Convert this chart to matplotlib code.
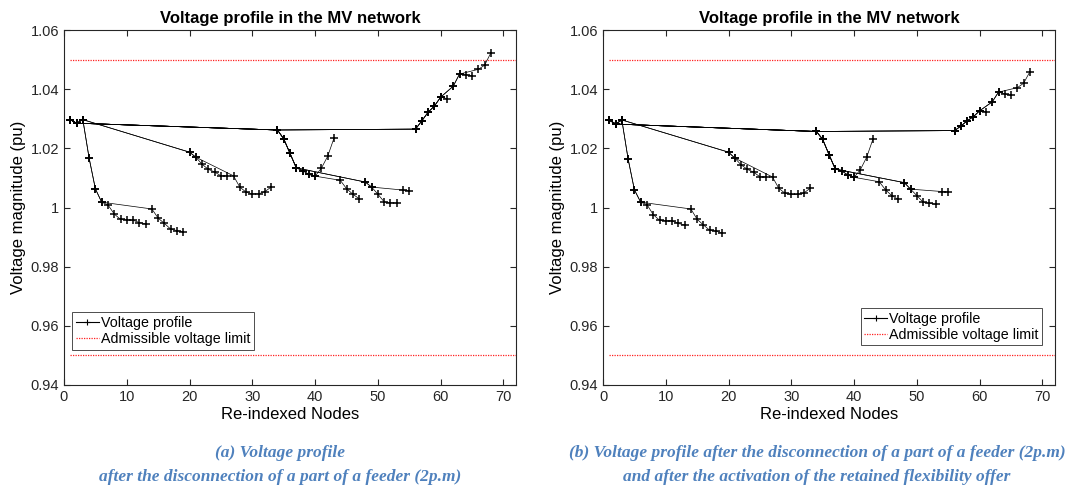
import numpy as np
import matplotlib.pyplot as plt
from matplotlib.lines import Line2D

plt.rcParams['font.family'] = ['Liberation Sans', 'DejaVu Sans']

# ── Data ─────────────────────────────────────────────────────────────────────
nodes = np.arange(1, 69)

# (a) after the disconnection of a part of a feeder
v_before = [
    1.0297, 1.0285, 1.0297, 1.0167, 1.0063, 1.0018, 1.0009, 0.9978, 0.9960, 0.9958,
    0.9957, 0.9949, 0.9945, 0.9995, 0.9964, 0.9946, 0.9927, 0.9922, 0.9917, 1.0187,
    1.0170, 1.0146, 1.0129, 1.0120, 1.0107, 1.0107, 1.0107, 1.0069, 1.0052, 1.0046,
    1.0046, 1.0054, 1.0069, 1.0262, 1.0232, 1.0183, 1.0134, 1.0125, 1.0112, 1.0106,
    1.0133, 1.0173, 1.0234, 1.0092, 1.0064, 1.0045, 1.0030, 1.0086, 1.0069, 1.0045,
    1.0019, 1.0016, 1.0015, 1.0059, 1.0057, 1.0265, 1.0293, 1.0322, 1.0343, 1.0373,
    1.0368, 1.0410, 1.0451, 1.0449, 1.0445, 1.0467, 1.0481, 1.0523,
]

# (b) after the activation of the retained flexibility offer
v_after = [
    1.0296, 1.0282, 1.0296, 1.0164, 1.0060, 1.0018, 1.0010, 0.9976, 0.9957, 0.9955,
    0.9955, 0.9946, 0.9941, 0.9995, 0.9960, 0.9941, 0.9923, 0.9920, 0.9914, 1.0187,
    1.0167, 1.0144, 1.0129, 1.0119, 1.0104, 1.0103, 1.0103, 1.0065, 1.0048, 1.0044,
    1.0044, 1.0049, 1.0065, 1.0257, 1.0230, 1.0179, 1.0130, 1.0124, 1.0110, 1.0102,
    1.0128, 1.0170, 1.0231, 1.0087, 1.0060, 1.0040, 1.0028, 1.0084, 1.0062, 1.0040,
    1.0018, 1.0014, 1.0011, 1.0054, 1.0052, 1.0260, 1.0275, 1.0293, 1.0307, 1.0327,
    1.0323, 1.0357, 1.0390, 1.0384, 1.0379, 1.0405, 1.0420, 1.0459,
]

# feeder paths from the substation (re-indexed nodes)
paths = [
    [1, 2, 3, 4, 5, 6, 7, 8, 9, 10, 11, 12, 13],
    [1, 2, 3, 4, 5, 6, 14, 15, 16, 17, 18, 19],
    [1, 2, 3, 20, 21, 22, 23, 24, 25, 26],
    [1, 2, 3, 20, 21, 27, 28, 29, 30, 31, 32, 33],
    [1, 2, 34, 35, 36, 37, 38, 39, 40, 41, 42, 43],
    [1, 2, 34, 35, 36, 37, 38, 39, 40, 44, 45, 46, 47],
    [1, 2, 34, 35, 36, 37, 48, 49, 50, 51, 52, 53],
    [1, 2, 34, 35, 36, 37, 48, 49, 54, 55],
    [1, 2, 34, 56, 57, 58, 59, 60, 61],
    [1, 2, 34, 56, 57, 58, 59, 60, 62, 63, 64, 65],
    [1, 2, 34, 56, 57, 58, 59, 60, 62, 63, 66, 67, 68],
]

v_max, v_min = 1.05, 0.95
y_ticks = [0.94, 0.96, 0.98, 1.0, 1.02, 1.04, 1.06]
y_labels = ['0.94', '0.96', '0.98', '1', '1.02', '1.04', '1.06']
x_ticks = [0, 10, 20, 30, 40, 50, 60, 70]

captions = [
    '(a) Voltage profile\nafter the disconnection of a part of a feeder (2p.m)',
    '(b) Voltage profile after the disconnection of a part of a feeder (2p.m)\n'
    'and after the activation of the retained flexibility offer',
]


def draw_profile(ax, volts, legend_anchor, legend_loc):
    volts = np.asarray(volts)
    for p in paths:
        idx = np.array(p) - 1
        ax.plot(nodes[idx], volts[idx], '-+', color='k', lw=0.5,
                ms=5.5, mew=1.1, zorder=3)
    ax.plot([1, 72], [v_max, v_max], color='#ff2020', lw=0.9,
            linestyle=(0, (1, 1)), zorder=2)
    ax.plot([1, 72], [v_min, v_min], color='#ff2020', lw=0.9,
            linestyle=(0, (1, 1)), zorder=2)

    ax.set_xlim(0, 72)
    ax.set_ylim(0.94, 1.06)
    ax.set_xticks(x_ticks)
    ax.set_yticks(y_ticks)
    ax.set_yticklabels(y_labels)
    ax.tick_params(direction='in', top=True, right=True, length=4,
                   width=0.8, labelsize=10.5, colors='0.15')
    for s in ax.spines.values():
        s.set_linewidth(0.8)
        s.set_color('0.15')

    ax.set_title('Voltage profile in the MV network', fontsize=12,
                 fontweight='bold', pad=5)
    ax.set_xlabel('Re-indexed Nodes', fontsize=12, labelpad=2)
    ax.set_ylabel('Voltage magnitude (pu)', fontsize=12, labelpad=3)

    handles = [
        Line2D([], [], color='k', lw=0.8, marker='+', ms=4, mew=0.8),
        Line2D([], [], color='#ff2020', lw=0.9, linestyle=(0, (1, 1))),
    ]
    leg = ax.legend(handles, ['Voltage profile', 'Admissible voltage limit'],
                    loc=legend_loc, bbox_to_anchor=legend_anchor,
                    fontsize=10.3, fancybox=False, framealpha=1,
                    edgecolor='0.3', borderpad=0.25, labelspacing=0.15,
                    handlelength=1.6, handletextpad=0.15, borderaxespad=0)
    leg.get_frame().set_linewidth(0.7)


fig = plt.figure(figsize=(10.75, 4.93), dpi=100)
ax1 = fig.add_axes([64 / 1075, 1 - 385 / 493, 452 / 1075, 355 / 493])
ax2 = fig.add_axes([603 / 1075, 1 - 385 / 493, 452 / 1075, 355 / 493])

draw_profile(ax1, v_before, (0.018, 0.10), 'lower left')
draw_profile(ax2, v_after, (0.972, 0.112), 'lower right')

for cx, txt in zip([280, 817], captions):
    fig.text(cx / 1075, 1 - 465 / 493, txt, ha='center', va='center',
             fontsize=12.5, fontweight='bold', fontstyle='italic',
             family=['Liberation Serif', 'DejaVu Serif'], color='#4f81bd',
             linespacing=1.63)

fig.savefig('out.png', dpi=100)
